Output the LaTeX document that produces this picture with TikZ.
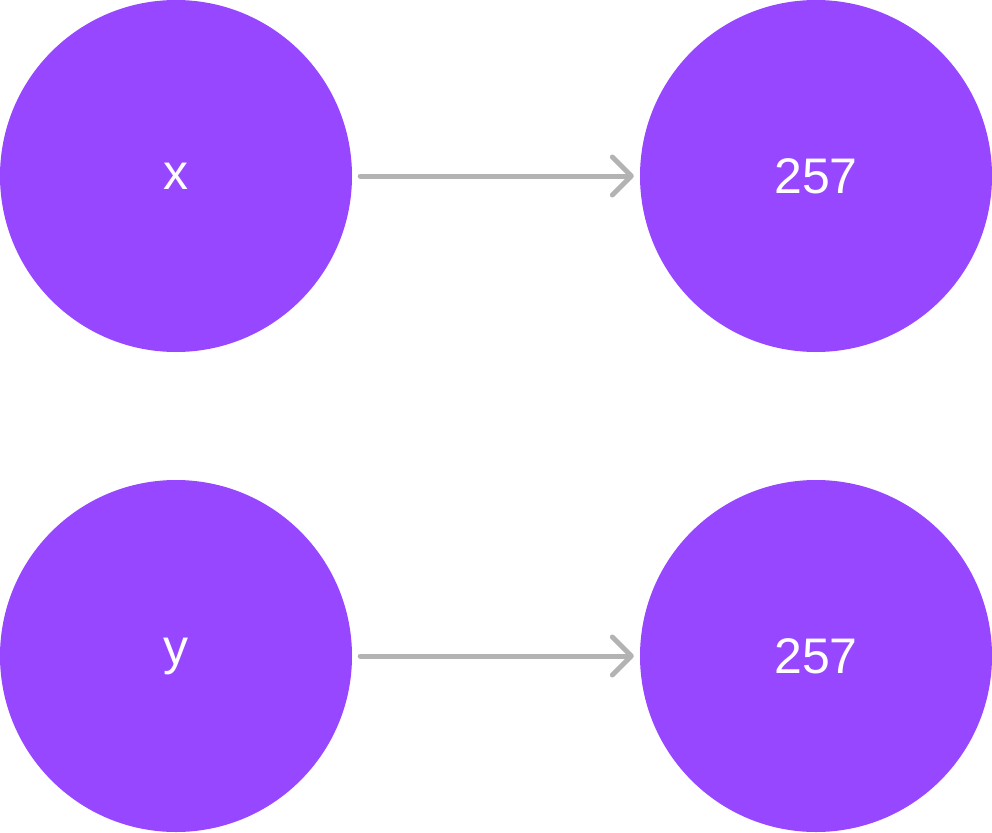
\documentclass[tikz,border=0pt]{standalone}
\usepackage{fontspec}
\setmainfont{Liberation Sans}
\usetikzlibrary{arrows.meta}
\definecolor{nodepurple}{HTML}{9747FF}
\definecolor{arrowgray}{HTML}{B3B3B3}
\begin{document}
\begin{tikzpicture}[x=1pt,y=-1pt,
  ball/.style={circle, fill=nodepurple, minimum size=352pt, inner sep=0pt, text=white, font=\fontsize{50}{54}\selectfont},
  link/.style={draw=arrowgray, line width=5pt, line cap=round, line join=round,
    -{Straight Barb[length=19pt,width=38pt,line width=5pt,round]}, shorten <=8pt, shorten >=6pt}]
\useasboundingbox (0,0) rectangle (992,832);
\node[ball] (x) at (176,176) {x};
\node[ball] (a) at (816,176) {257};
\node[ball] (y) at (176,656) {y};
\node[ball] (b) at (816,656) {257};
\draw[link] (x) -- (a);
\draw[link] (y) -- (b);
\end{tikzpicture}
\end{document}
